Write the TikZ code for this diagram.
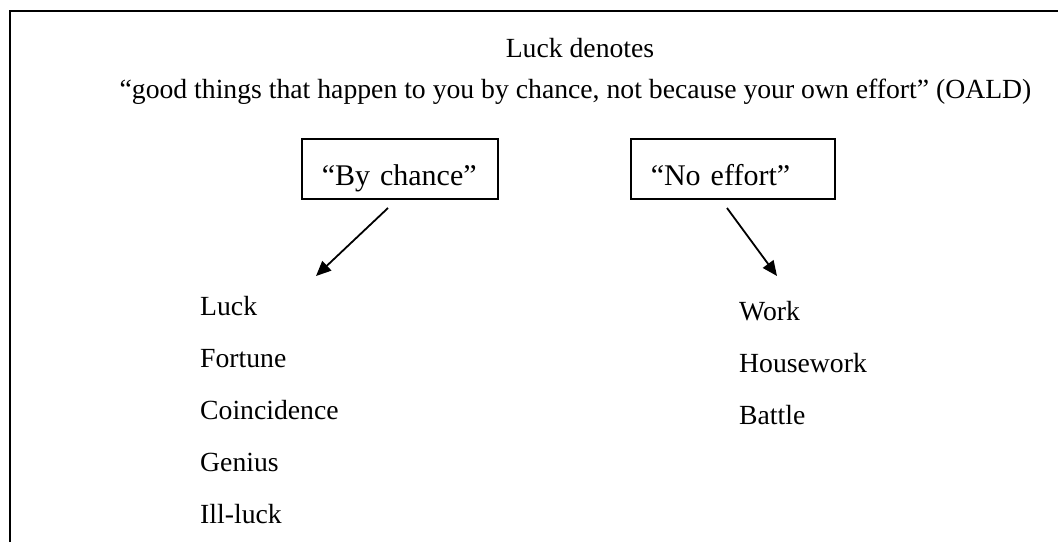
\documentclass[tikz,border=0pt]{standalone}
\usepackage{fontspec}
\setmainfont{Liberation Serif}
\usetikzlibrary{arrows.meta}
\begin{document}
\begin{tikzpicture}[x=1pt,y=-1pt,
  txt/.style={font=\fontsize{27.7}{33}\selectfont, inner sep=0pt},
  item/.style={txt, anchor=base west},
  label box/.style={font=\fontsize{30}{36}\selectfont, draw, line width=1.5pt,
    minimum height=60pt, inner xsep=20pt, inner ysep=0pt, align=left,
    text height=40pt, text depth=6pt, anchor=north west},
  pointer/.style={line width=1.8pt, -{Triangle[length=15pt,width=13pt]}}]
\useasboundingbox (0,0) rectangle (1058,542);
% frame edges
\coordinate (fc) at (10,11);
\coordinate (fr) at (1058,11);
\coordinate (fb) at (10,542);
\draw[line width=2pt] (fb) -- (fc) -- (fr);
% heading
\node[txt, anchor=base] (head) at (580,57) {Luck denotes};
\node[txt, anchor=base] (defn) at (575.5,98) {“good things that happen to you by chance, not because your own effort” (OALD)};
% category boxes
\node[label box, minimum width=196pt, text width=156pt] (chance) at (301,138) {“By chance”};
\node[label box, minimum width=204pt, text width=164pt] (effort) at (630,138) {“No effort”};
% arrows
\coordinate (a1s) at (388,208);
\coordinate (a1e) at (316,276);
\coordinate (a2s) at (727,208);
\coordinate (a2e) at (777,276);
\draw[pointer] (a1s) -- (a1e);
\draw[pointer] (a2s) -- (a2e);
% word lists
\node[item] (l1) at (200,315) {Luck};
\node[item] (l2) at (200,367) {Fortune};
\node[item] (l3) at (200,419) {Coincidence};
\node[item] (l4) at (200,471) {Genius};
\node[item] (l5) at (200,523) {Ill-luck};
\node[item] (r1) at (739,320) {Work};
\node[item] (r2) at (739,372) {Housework};
\node[item] (r3) at (739,424) {Battle};
\end{tikzpicture}
\end{document}
